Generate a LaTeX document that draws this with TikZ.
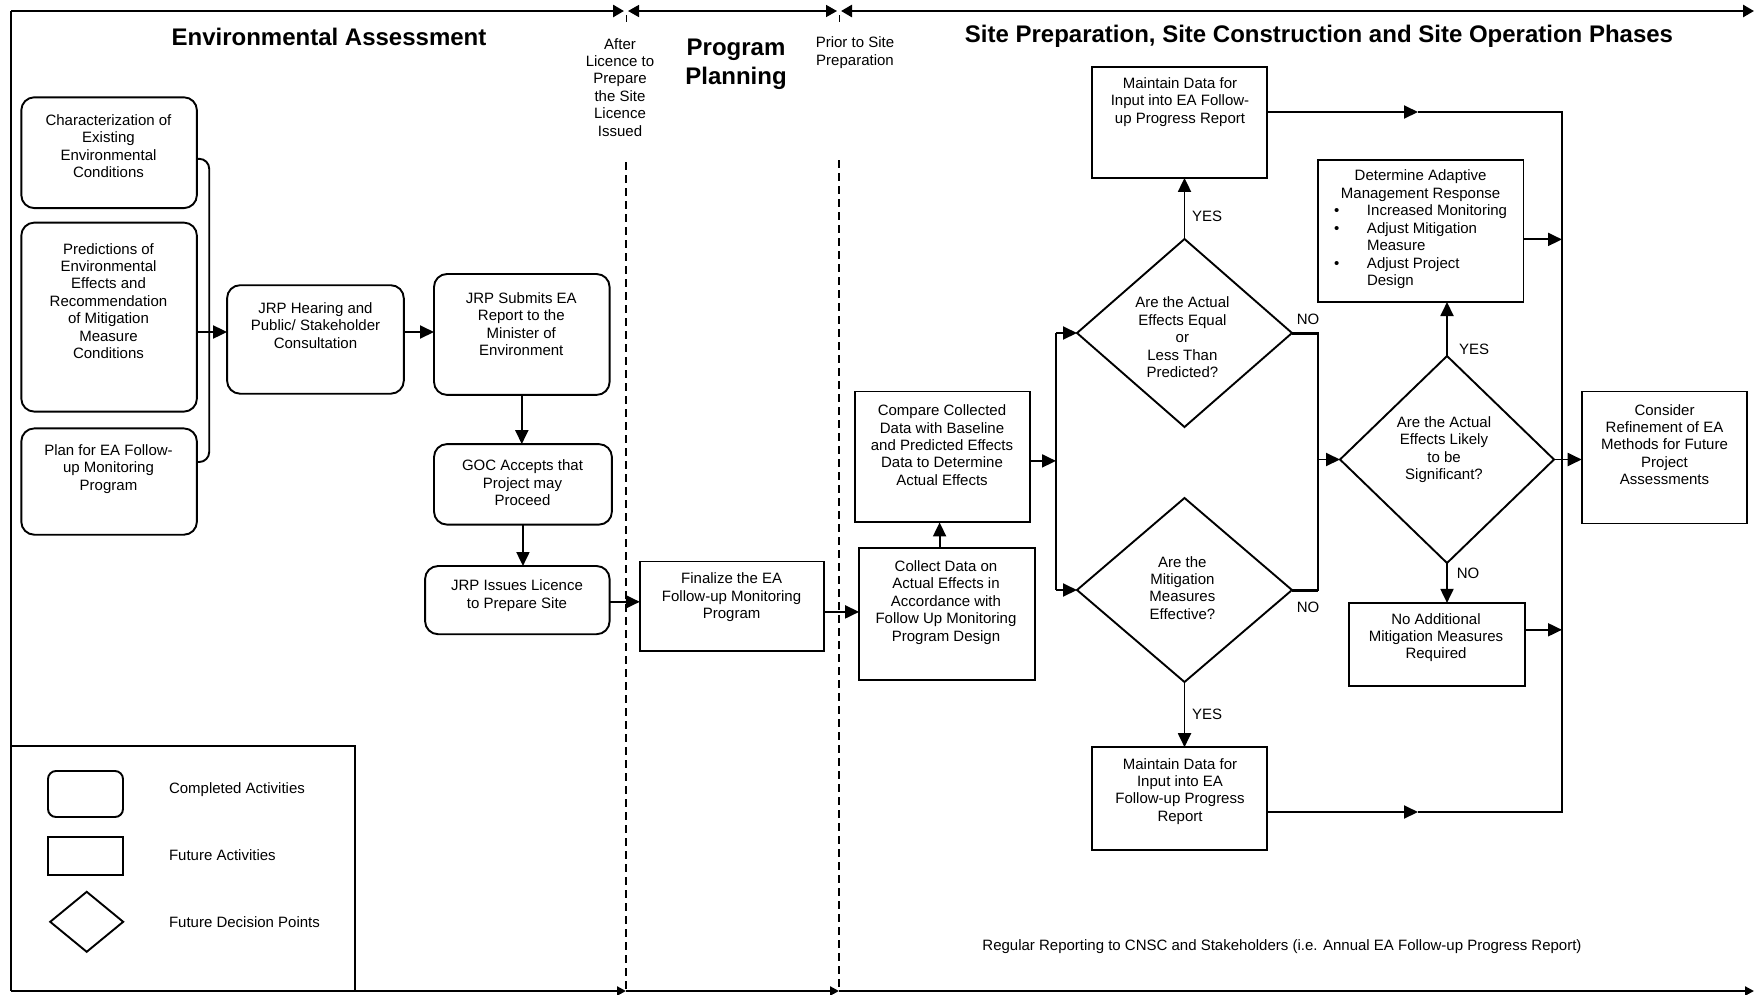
\documentclass[tikz,border=0pt]{standalone}
\usepackage{fontspec}
\setmainfont{Liberation Sans}
\usetikzlibrary{arrows.meta,shapes.geometric,fit}
\begin{document}
\begin{tikzpicture}[x=1pt,y=-1pt,
  every node/.style={inner sep=0pt, outer sep=0pt},
  txt/.style={font=\fontsize{15}{17.4}\selectfont, align=center},
  ttl/.style={font=\fontsize{24}{29}\selectfont\bfseries, align=center},
  done/.style={draw, line width=1.9pt, rounded corners=13pt},
  todo/.style={draw, line width=1.9pt},
  dia/.style={draw, line width=1.9pt, diamond, shape aspect=1},
  ln/.style={line width=1.9pt},
  arr/.style={line width=1.9pt, -{Triangle[length=14pt,width=13pt]}},
  tl/.style={-{Triangle[length=11pt,width=12pt]}},
  tlr/.style={{Triangle[length=11pt,width=12pt]}-{Triangle[length=11pt,width=12pt]}},
  bt/.style={line width=2.4pt, -{Triangle[length=9pt,width=9pt]}},
  sep/.style={line width=1.8pt, dash pattern=on 8pt off 5pt},
]
\useasboundingbox (0,0) rectangle (1754,994);

% ---------- frame ----------
\coordinate (tL) at (11,11);
\coordinate (tA) at (626,11);
\coordinate (tB) at (839,11);
\coordinate (tR) at (1754,11);
\coordinate (bL) at (11,991);
\coordinate (bA) at (626,991);
\coordinate (bB) at (839,991);
\coordinate (bR) at (1754,991);
\draw[line width=2.2pt] (tL) -- (bL);
\draw[line width=2.6pt, tl] (tL) -- ([xshift=-2pt]tA);
\draw[line width=1.6pt, tlr] ([xshift=2pt]tA) -- ([xshift=-2pt]tB);
\draw[line width=2.6pt, tlr] ([xshift=2pt]tB) -- (tR);
\draw[bt] (bL) -- (bA);
\draw[bt] (bA) -- (bB);
\draw[bt] (bB) -- (bR);
\draw[line width=1pt] (626,15) -- (626,22);
\draw[line width=1pt] (839,15) -- (839,22);
\draw[sep] (626,162) -- (bA);
\draw[sep] (839,160) -- (bB);

% ---------- headings ----------
\node[ttl] (hEA) at (329,37) {Environmental Assessment};
\node[txt] (hAfter) at (620,87.3) {After\\Licence to\\Prepare\\the Site\\Licence\\Issued};
\node[ttl] (hPP) at (736,64) {Program\\Planning};
\node[txt] (hPrior) at (855,52.6) {Prior to Site\\Preparation};
\node[ttl] (hSite) at (1319,36) {Site Preparation, Site Construction and Site Operation Phases};

% ---------- completed activities ----------
\node[done, fit={(21.3,97.3)(196.9,208.1)}] (char) {};
\node[txt] (char-t) at (108.5,146) {Characterization of\\Existing\\Environmental\\Conditions};
\node[done, fit={(21.3,222.6)(196.9,411.6)}] (pred) {};
\node[txt] (pred-t) at (108.5,301) {Predictions of\\Environmental\\Effects and\\Recommendation\\of Mitigation\\Measure\\Conditions};
\node[done, fit={(21.3,428.4)(196.9,534.7)}] (plan) {};
\node[txt] (plan-t) at (108.5,469) {Plan for EA Follow-\\up Monitoring\\Program};

\node[done, fit={(227.1,285.2)(403.8,393.7)}] (hear) {};
\node[txt] (hear-t) at (315.5,325.5) {JRP Hearing and\\Public/ Stakeholder\\Consultation};
\node[done, fit={(434,274)(609.6,394.9)}] (subm) {};
\node[txt] (subm-t) at (521.3,324) {JRP Submits EA\\Report to the\\Minister of\\Environment};
\node[done, fit={(434,444.1)(611.9,524.6)}] (goc) {};
\node[txt] (goc-t) at (522.5,482.7) {GOC Accepts that\\Project may\\Proceed};
\node[done, fit={(425.1,566)(609.6,634.2)}] (issue) {};
\node[txt] (issue-t) at (517,595.6) {JRP Issues Licence\\to Prepare Site};

% ---------- future activities ----------
\node[todo, fit={(639.8,561.5)(824.4,651)}] (final) {};
\node[txt] (final-t) at (731.6,597.3) {Finalize the EA\\Follow-up Monitoring\\Program};
\node[todo, fit={(859.1,548.1)(1034.7,680.1)}] (coll) {};
\node[txt] (coll-t) at (946,602.4) {Collect Data on\\Actual Effects in\\Accordance with\\Follow Up Monitoring\\Program Design};
\node[todo, fit={(854.6,391.5)(1030.2,522.4)}] (comp) {};
\node[txt] (comp-t) at (942,445.2) {Compare Collected\\Data with Baseline\\and Predicted Effects\\Data to Determine\\Actual Effects};
\node[todo, fit={(1091.8,67.1)(1267.4,177.9)}] (mnt1) {};
\node[txt] (mnt1-t) at (1180,101.8) {Maintain Data for\\Input into EA Follow-\\up Progress Report};
\node[todo, fit={(1091.8,747.2)(1267.4,850.1)}] (mnt2) {};
\node[txt] (mnt2-t) at (1180,791.4) {Maintain Data for\\Input into EA\\Follow-up Progress\\Report};
\node[todo, fit={(1317.7,160)(1523.5,302)}] (det) {};
\node[txt] (det-t) at (1420.6,185.7) {Determine Adaptive\\Management Response};
\node[txt, anchor=west, align=left] (det-b) at (1334,247.2) {\begin{tabular}{@{}p{33pt}@{}l@{}}\textbullet&Increased Monitoring\\ \textbullet&Adjust Mitigation\\ &Measure\\ \textbullet&Adjust Project\\ &Design\end{tabular}};
\node[todo, fit={(1349,602.9)(1524.7,685.7)}] (noadd) {};
\node[txt] (noadd-t) at (1436,637.6) {No Additional\\Mitigation Measures\\Required};
\node[todo, fit={(1581.7,391.5)(1747.3,523.5)}] (cons) {};
\node[txt] (cons-t) at (1664.5,444.6) {Consider\\Refinement of EA\\Methods for Future\\Project\\Assessments};

% ---------- decisions ----------
\node[dia, minimum width=215pt, minimum height=188pt] (d1) at (1184.5,333) {};
\node[txt] (d1-t) at (1182.4,337.3) {Are the Actual\\Effects Equal\\or\\Less Than\\Predicted?};
\node[dia, minimum width=215pt, minimum height=184pt] (d2) at (1184.5,590) {};
\node[txt] (d2-t) at (1182.4,587.8) {Are the\\Mitigation\\Measures\\Effective?};
\node[dia, minimum width=214pt, minimum height=207pt] (d3) at (1447,459.5) {};
\node[txt] (d3-t) at (1444,449.7) {Are the Actual\\Effects Likely\\to be\\Significant?};

% ---------- connectors (left part) ----------
\coordinate (br1) at (209.2,158.8);
\coordinate (br2) at (209.2,462);
\coordinate (ha) at (209.2,332);
\draw[ln, rounded corners=10pt] (char.east |- br1) -- (br1) -- (br2) -- (plan.east |- br2);
\draw[arr] (pred.east |- ha) -- (ha -| hear.west);
\coordinate (hb) at (410,332);
\draw[arr] (hear.east |- hb) -- (hb -| subm.west);
\draw[arr] (subm.south) -- (subm.south |- goc.north);
\draw[arr] (goc.south) -- (goc.south |- issue.north);
\coordinate (ia) at (615,601.8);
\draw[arr] (issue.east |- ia) -- (ia -| final.west);

% ---------- connectors (right part) ----------
\coordinate (fa) at (845,611.9);
\draw[arr] (final.east |- fa) -- (fa -| coll.west);
\coordinate (ca) at (939.6,500);
\draw[arr] (ca |- coll.north) -- (ca |- comp.south);

\coordinate (jm) at (1056,460.9);
\draw[arr] (comp.east |- jm) -- (jm);
\draw[ln] (jm |- d1.west) -- (jm |- d2.west);
\draw[arr] (jm |- d1.west) -- (d1.west);
\draw[arr] (jm |- d2.west) -- (d2.west);

\draw[arr] (d1.north) -- (d1.north |- mnt1.south);
\node[txt] (yes1) at (1207,216) {YES};
\draw[arr] (d2.south) -- (d2.south |- mnt2.north);
\node[txt] (yes2) at (1207,714) {YES};

\coordinate (nm) at (1318,459.5);
\draw[ln] (d1.east) -- (d1.east -| nm) -- (d2.east -| nm) -- (d2.east);
\draw[line width=3pt] (d1.east) -- (d1.east -| nm);
\draw[line width=3pt] (d2.east) -- (d2.east -| nm);
\draw[arr] (nm) -- (d3.west);
\node[txt] (no1) at (1308,319) {NO};
\node[txt] (no2) at (1308,607) {NO};

\draw[arr] (d3.north) -- (d3.north |- det.south);
\node[txt] (yes3) at (1474,349) {YES};
\draw[arr] (d3.south) -- (d3.south |- noadd.north);
\node[txt] (no3) at (1468,573) {NO};
\draw[arr] (d3.east) -- (d3.east -| cons.west);

\coordinate (ra) at (1418,112);
\coordinate (rb) at (1562,112);
\coordinate (rc) at (1562,812);
\coordinate (rd) at (1418,812);
\draw[arr] (mnt1.east |- ra) -- (ra);
\draw[ln] (ra) -- (rb) -- (rc) -- (rd);
\draw[arr] (mnt2.east |- rd) -- (rd);
\coordinate (r1) at (1562,239.4);
\draw[arr] (det.east |- r1) -- (r1);
\coordinate (r2) at (1562,629.8);
\draw[arr] (noadd.east |- r2) -- (r2);

\node[txt] (report) at (1282,947) {Regular Reporting to CNSC and Stakeholders (i.e. Annual EA Follow-up Progress Report)};

% ---------- legend ----------
\coordinate (lgA) at (355,746);
\draw[ln] (11,746) -- (lgA) -- (355,991);
\node[done, rounded corners=8pt, fit={(48,771)(123,817)}] (lg1) {};
\node[todo, fit={(48,837)(123,875)}] (lg2) {};
\node[dia, minimum width=73pt, minimum height=60pt] (lg3) at (86.7,921.8) {};
\node[txt, anchor=west] (lg1-t) at (169,790) {Completed Activities};
\node[txt, anchor=west] (lg2-t) at (169,855) {Future Activities};
\node[txt, anchor=west] (lg3-t) at (169,922) {Future Decision Points};
\end{tikzpicture}
\end{document}
